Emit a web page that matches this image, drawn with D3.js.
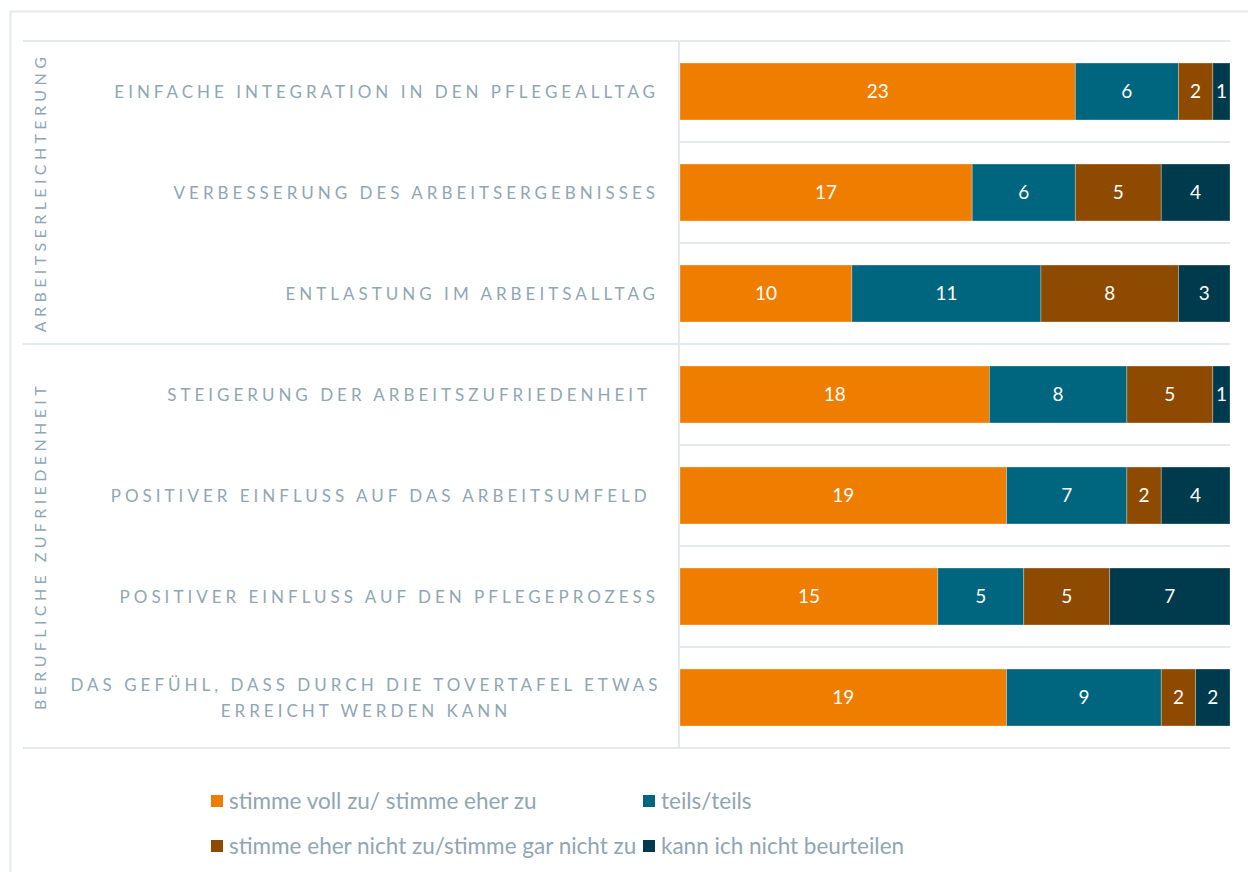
<!DOCTYPE html>
<html lang="de">
<head>
	<meta charset="UTF-8">
	<title>Tovertafel Bewertung</title>
	<script src="https://cdn.jsdelivr.net/npm/d3@7/dist/d3.min.js"></script>
	<style>
		body { margin: 0; background: #fff; }
		svg { display: block; font-family: Lato, "Open Sans", sans-serif; }
	</style>
</head>
<body>
	<script>
	// data
	const categories = [
		"EINFACHE INTEGRATION IN DEN PFLEGEALLTAG",
		"VERBESSERUNG DES ARBEITSERGEBNISSES",
		"ENTLASTUNG IM ARBEITSALLTAG",
		"STEIGERUNG DER ARBEITSZUFRIEDENHEIT ",
		"POSITIVER EINFLUSS AUF DAS ARBEITSUMFELD ",
		"POSITIVER EINFLUSS AUF DEN PFLEGEPROZESS",
		"DAS GEFÜHL, DASS DURCH DIE TOVERTAFEL ETWAS|ERREICHT WERDEN KANN"
	]
	const groups = ["ARBEITSERLEICHTERUNG", "BERUFLICHE ZUFRIEDENHEIT"]
	const groupSizes = [3, 4]
	const seriesNames = [
		"stimme voll zu/ stimme eher zu",
		"teils/teils",
		"stimme eher nicht zu/stimme gar nicht zu",
		"kann ich nicht beurteilen"
	]
	const stimmeZu = [23, 17, 10, 18, 19, 15, 19]
	const teils = [6, 6, 11, 8, 7, 5, 9]
	const stimmeNicht = [2, 5, 8, 5, 2, 5, 2]
	const kannNicht = [1, 4, 3, 1, 4, 7, 2]
	const colors = ["#ef7d00", "#00657f", "#8e4b00", "#003a4d"]

	const W = 1248, H = 872
	const textColor = "#8fa6b3", gridColor = "#e4e9ed"

	const svg = d3.select('body').append('svg')
		.attr('width', W)
		.attr('height', H)

	// frame
	svg.append('path')
		.attr('d', `M10.5,${H} V11.5 H${W}`)
		.attr('fill', 'none')
		.attr('stroke', gridColor)
		.attr('stroke-width', 2)

	const rows = categories.map((c, i) => ({
		cat: c, vals: [stimmeZu[i], teils[i], stimmeNicht[i], kannNicht[i]]
	}))

	const y = d3.scaleBand()
		.domain(categories)
		.range([41, 748])
		.paddingInner(0.436)
		.paddingOuter(0.218)

	const x = d3.scaleLinear()
		.domain([0, d3.max(rows, r => d3.sum(r.vals))])
		.range([680, 1230])

	// grid lines between rows
	const step = y.step()
	const groupEnds = d3.cumsum(groupSizes)
	for (let i = 0; i <= categories.length; i++) {
		const yy = 41 + i * step
		const full = i === 0 || groupEnds.includes(i)
		svg.append('line')
			.attr('x1', full ? 23 : 680).attr('x2', 1230)
			.attr('y1', yy).attr('y2', yy)
			.attr('stroke', gridColor).attr('stroke-width', 2)
	}
	svg.append('line')
		.attr('x1', 679).attr('x2', 679)
		.attr('y1', 41).attr('y2', 748)
		.attr('stroke', gridColor).attr('stroke-width', 2)

	// stacked bars
	const stack = d3.stack().keys([0, 1, 2, 3]).value((r, k) => r.vals[k])
	const series = stack(rows)

	const g = svg.selectAll('g.series')
		.data(series)
		.enter().append('g')
		.attr('class', 'series')
		.attr('fill', (d, i) => colors[i])

	g.selectAll('rect')
		.data(d => d)
		.enter().append('rect')
		.attr('x', d => x(d[0]))
		.attr('y', d => y(d.data.cat))
		.attr('width', d => x(d[1]) - x(d[0]))
		.attr('height', y.bandwidth())
		.attr('stroke', 'rgba(255,255,255,0.35)')
		.attr('stroke-width', 0.8)

	g.selectAll('text')
		.data(d => d)
		.enter().append('text')
		.attr('x', d => (x(d[0]) + x(d[1])) / 2)
		.attr('y', d => y(d.data.cat) + y.bandwidth() / 2)
		.attr('dy', '0.36em')
		.attr('text-anchor', 'middle')
		.attr('fill', '#fff')
		.attr('font-size', 19)
		.text(d => d[1] - d[0])

	// category labels
	categories.forEach(c => {
		const lines = c.split('|')
		const cy = y(c) + y.bandwidth() / 2
		const t = svg.append('text')
			.attr('fill', textColor)
			.attr('font-size', 17)
			.attr('letter-spacing', '4px')
			.style('white-space', 'pre')
		if (lines.length === 1) {
			t.attr('x', 659).attr('y', cy).attr('dy', '0.36em')
				.attr('text-anchor', 'end').text(c)
		} else {
			t.attr('text-anchor', 'middle')
			lines.forEach((l, j) => {
				t.append('tspan')
					.attr('x', 366)
					.attr('y', cy + (j - (lines.length - 1) / 2) * 26)
					.attr('dy', '0.36em')
					.text(l)
			})
		}
	})

	// group labels
	let start = 0
	groups.forEach((gname, i) => {
		const y0 = 41 + start * step
		const y1 = 41 + (start + groupSizes[i]) * step
		svg.append('text')
			.attr('transform', `translate(40,${(y0 + y1) / 2}) rotate(-90)`)
			.attr('text-anchor', 'middle')
			.attr('dy', '0.36em')
			.attr('fill', textColor)
			.attr('font-size', 16)
			.attr('letter-spacing', '4.4px')
			.text(gname)
		start += groupSizes[i]
	})

	// legend
	const legendPos = [[211, 801], [643, 801], [211, 846], [643, 846]]
	seriesNames.forEach((name, i) => {
		const lg = svg.append('g').attr('transform', `translate(${legendPos[i][0]},${legendPos[i][1]})`)
		lg.append('rect')
			.attr('x', 0).attr('y', -6)
			.attr('width', 12).attr('height', 12)
			.attr('fill', colors[i])
		lg.append('text')
			.attr('x', 18).attr('dy', '0.36em')
			.attr('fill', textColor)
			.attr('font-size', 22.5)
			.text(name)
	})
	</script>
</body>
</html>
